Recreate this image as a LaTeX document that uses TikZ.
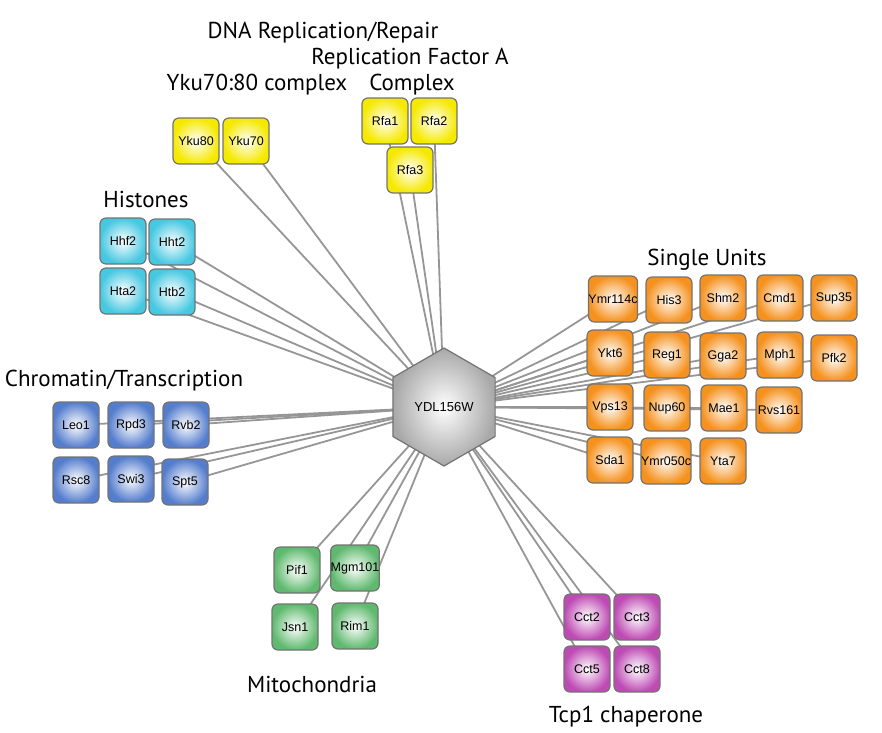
\documentclass[tikz,border=0pt]{standalone}
\usepackage{fontspec}
\setmainfont{Liberation Sans}
\newfontfamily\titlefont{PT Sans}
\usetikzlibrary{shapes.geometric,backgrounds}
\definecolor{yellowc}{RGB}{245,233,0}
\definecolor{cyanc}{RGB}{70,200,225}
\definecolor{bluec}{RGB}{85,125,205}
\definecolor{greenc}{RGB}{95,185,110}
\definecolor{purplec}{RGB}{190,75,180}
\definecolor{orangec}{RGB}{245,145,30}
\definecolor{bordergray}{RGB}{115,115,115}
\definecolor{edgegray}{RGB}{150,150,150}
\definecolor{hubgray}{RGB}{168,168,168}
\tikzset{
  box/.style={draw=bordergray, line width=1.2pt, rounded corners=6pt,
    minimum width=46pt, minimum height=46pt, inner sep=0pt,
    font=\fontsize{12.5}{13}\selectfont, inner color=white},
  yel/.style={box, outer color=yellowc},
  cya/.style={box, outer color=cyanc},
  blu/.style={box, outer color=bluec},
  gre/.style={box, outer color=greenc},
  pur/.style={box, outer color=purplec},
  ora/.style={box, outer color=orangec},
  hubstyle/.style={regular polygon, regular polygon sides=6, shape border rotate=30,
    minimum size=118pt, inner sep=0pt, draw=bordergray, line width=1.2pt,
    inner color=white, outer color=hubgray, font=\fontsize{13}{14}\selectfont},
  edge/.style={draw=edgegray, line width=1.8pt},
  title/.style={font=\titlefont\fontsize{23}{24}\selectfont, anchor=base, inner sep=0pt}
}
\begin{document}
\begin{tikzpicture}[x=1pt,y=-1pt]
\useasboundingbox (0,0) rectangle (882,732);
% hub
\node[hubstyle] (hub) at (444,407) {YDL156W};
% yellow
\node[yel] (yku80) at (196,141) {Yku80};
\node[yel] (yku70) at (246,141) {Yku70};
\node[yel] (rfa1) at (385,121) {Rfa1};
\node[yel] (rfa2) at (434,121) {Rfa2};
\node[yel] (rfa3) at (410,170) {Rfa3};
% histones
\node[cya] (hhf2) at (123,241) {Hhf2};
\node[cya] (hht2) at (172,242) {Hht2};
\node[cya] (hta2) at (123,291) {Hta2};
\node[cya] (htb2) at (172,292) {Htb2};
% chromatin
\node[blu] (leo1) at (76,425) {Leo1};
\node[blu] (rpd3) at (131,425) {Rpd3};
\node[blu] (rvb2) at (186,425) {Rvb2};
\node[blu] (rsc8) at (76,480) {Rsc8};
\node[blu] (swi3) at (131,479) {Swi3};
\node[blu] (spt5) at (185,482) {Spt5};
% mitochondria
\node[gre] (pif1) at (297,570) {Pif1};
\node[gre] (mgm101) at (355,568) {Mgm101};
\node[gre] (jsn1) at (295,627) {Jsn1};
\node[gre] (rim1) at (355,626) {Rim1};
% tcp1
\node[pur] (cct2) at (587,617) {Cct2};
\node[pur] (cct3) at (637,617) {Cct3};
\node[pur] (cct5) at (587,669) {Cct5};
\node[pur] (cct8) at (637,669) {Cct8};
% single units
\node[ora] (ymr114c) at (613,299) {Ymr114c};
\node[ora] (his3) at (669,300) {His3};
\node[ora] (shm2) at (723,298) {Shm2};
\node[ora] (cmd1) at (780,298) {Cmd1};
\node[ora] (sup35) at (834,298) {Sup35};
\node[ora] (ykt6) at (610,353) {Ykt6};
\node[ora] (reg1) at (667,355) {Reg1};
\node[ora] (gga2) at (723,356) {Gga2};
\node[ora] (mph1) at (780,355) {Mph1};
\node[ora] (pfk2) at (834,358) {Pfk2};
\node[ora] (vps13) at (610,407) {Vps13};
\node[ora] (nup60) at (667,408) {Nup60};
\node[ora] (mae1) at (724,408) {Mae1};
\node[ora] (rvs161) at (779,410) {Rvs161};
\node[ora] (sda1) at (610,460) {Sda1};
\node[ora] (ymr050c) at (666,461) {Ymr050c};
\node[ora] (yta7) at (723,461) {Yta7};
% edges
\begin{scope}[on background layer]
\foreach \n in {yku80,yku70,rfa1,rfa2,rfa3,hhf2,hht2,hta2,htb2,
  leo1,rpd3,rvb2,rsc8,swi3,spt5,pif1,mgm101,jsn1,rim1,
  cct2,cct3,cct5,cct8,ymr114c,his3,shm2,cmd1,sup35,ykt6,reg1,gga2,mph1,pfk2,
  vps13,nup60,mae1,rvs161,sda1,ymr050c,yta7}
  \draw[edge] (hub.center) -- (\n.center);
\end{scope}
% titles
\node[title] (tdna) at (323,38) {DNA Replication/Repair};
\node[title] (trfa) at (410,64) {Replication Factor A};
\node[title] (tcomplex) at (412,90) {Complex};
\node[title] (tyku) at (257,90) {Yku70:80 complex};
\node[title] (thist) at (146,207) {Histones};
\node[title] (tchrom) at (124,386) {Chromatin/Transcription};
\node[title] (tsingle) at (707,265) {Single Units};
\node[title] (tmito) at (312,692) {Mitochondria};
\node[title] (ttcp) at (626,722) {Tcp1 chaperone};
\end{tikzpicture}
\end{document}
